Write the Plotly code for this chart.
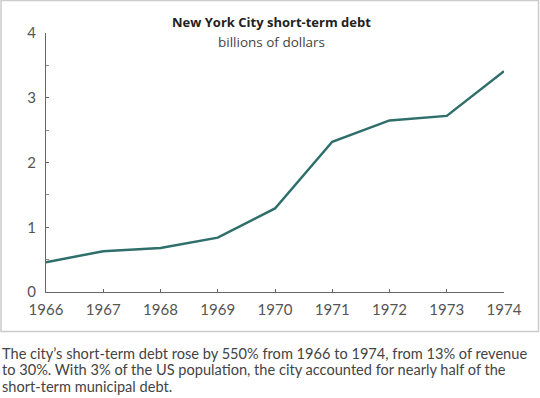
import plotly.graph_objects as go

years = [1966, 1967, 1968, 1969, 1970, 1971, 1972, 1973, 1974]
debt = [0.46, 0.63, 0.68, 0.84, 1.29, 2.32, 2.65, 2.72, 3.41]
y_ticks = [0, 1, 2, 3, 4]

title = "New York City short-term debt"
subtitle = "billions of dollars"
caption_lines = [
    "The city\u2019s short-term debt rose by 550% from 1966 to 1974, from 13% of revenue",
    "to 30%. With 3% of the US population, the city accounted for nearly half of the",
    "short-term municipal debt.",
]

W, H = 540, 398
L, R, T, B = 46, 36, 33, 106
pw, ph = W - L - R, H - T - B

def px_x(x):
    return (x - L) / pw

def px_y(y):
    return (H - B - y) / ph

fig = go.Figure()
fig.add_trace(go.Scatter(x=years, y=debt, mode="lines",
                         line=dict(color="#2f6f6b", width=2.5),
                         hoverinfo="skip", showlegend=False))

tickfont = dict(family="Lato", size=15, color="#555555")

annotations = [
    dict(text="<b>" + title + "</b>", xref="paper", yref="paper",
         x=px_x(271), y=px_y(22.5), xanchor="center", yanchor="middle", showarrow=False,
         font=dict(family="Open Sans", size=13, color="#222222")),
    dict(text=subtitle, xref="paper", yref="paper",
         x=px_x(271), y=px_y(42), xanchor="center", yanchor="middle", showarrow=False,
         font=dict(family="Open Sans", size=13.5, color="#444444")),
]
for i, line in enumerate(caption_lines):
    annotations.append(dict(text=line, xref="paper", yref="paper",
                            x=px_x(0), y=px_y(353 + 16.6 * i), xanchor="left", yanchor="middle",
                            align="left", showarrow=False,
                            font=dict(family="Lato", size=14.6, color="#444444")))

fig.update_layout(
    width=W, height=H,
    margin=dict(l=L, r=R, t=T, b=B, autoexpand=False),
    paper_bgcolor="white", plot_bgcolor="white",
    xaxis=dict(range=[1966, 1974], dtick=1, tick0=1966, showgrid=False, zeroline=False,
               showline=True, linecolor="#666666", linewidth=1,
               ticks="inside", ticklen=3, tickcolor="#666666", tickwidth=1,
               tickfont=tickfont, ticklabelstandoff=4, fixedrange=True),
    yaxis=dict(range=[0, 4], tickvals=y_ticks, showgrid=False, zeroline=False,
               showline=True, linecolor="#666666", linewidth=1,
               ticks="inside", ticklen=3, tickcolor="#666666", tickwidth=1,
               minor=dict(dtick=0.5, ticks="inside", ticklen=3, tickcolor="#888888"),
               tickfont=tickfont, ticklabelstandoff=6, fixedrange=True),
    shapes=[dict(type="rect", xref="paper", yref="paper",
                 x0=px_x(1), x1=px_x(538.5), y0=px_y(331.5), y1=px_y(0.5),
                 line=dict(color="#cccccc", width=1.5), fillcolor="rgba(0,0,0,0)", layer="below")],
    annotations=annotations,
)

fig.write_html("out.html", config={"displayModeBar": False},
               post_script="document.body.style.margin='0px';")
